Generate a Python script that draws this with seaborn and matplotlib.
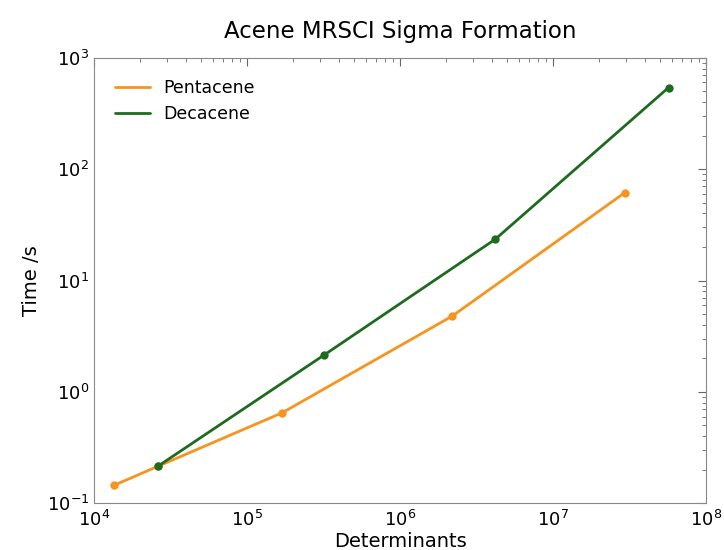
import pandas as pd
import numpy as np
import matplotlib.pyplot as plt
import seaborn as sns

# Timings
pent_dets = [1.35e4, 2.6e4, 1.7e5, 2.2e6, 2.95e7]
pent_time = [0.145, 0.214, 0.65, 4.8, 61.5]
deca_dets = [2.6e4, 3.2e5, 4.2e6, 5.7e7]
deca_time = [0.214, 2.15, 23.5, 540]

df = pd.concat([
    pd.DataFrame({'Determinants': pent_dets, 'Time': pent_time, 'Molecule': 'Pentacene'}),
    pd.DataFrame({'Determinants': deca_dets, 'Time': deca_time, 'Molecule': 'Decacene'}),
], ignore_index=True)

sns.set_style('white')
plt.rcParams['font.family'] = ['DejaVu Sans']
plt.rcParams['text.color'] = 'black'
plt.rcParams['axes.labelcolor'] = 'black'

fig, ax = plt.subplots(figsize=(7.24, 5.5), dpi=100)
palette = {'Pentacene': '#f7941d', 'Decacene': '#1e6b1e'}
sns.lineplot(data=df, x='Determinants', y='Time', hue='Molecule', palette=palette,
             marker='o', markersize=6, markeredgewidth=0, linewidth=2, ax=ax)

ax.set_xscale('log')
ax.set_yscale('log')
ax.set_xlim(1e4, 1e8)
ax.set_ylim(1e-1, 1e3)

ax.set_title('Acene MRSCI Sigma Formation', fontsize=16.5, pad=14, color='black')
ax.set_xlabel('Determinants', fontsize=14, labelpad=1)
ax.set_ylabel('Time /s', fontsize=14)
ax.tick_params(which='both', direction='in', top=True, right=True, colors='#666666',
               labelcolor='black', labelsize=13)
ax.tick_params(which='major', length=6)
ax.tick_params(which='minor', length=3)
ax.tick_params(axis='x', pad=5)
for s in ax.spines.values():
    s.set_color('#888888')

handles, labels = ax.get_legend_handles_labels()
for h in handles:
    h.set_marker('')
ax.legend(handles, labels, frameon=False, fontsize=12.5, loc='upper left',
          handlelength=2, borderaxespad=0.8)

plt.subplots_adjust(left=0.13, right=0.975, top=0.895, bottom=0.085)
plt.savefig('out.png', dpi=100)
